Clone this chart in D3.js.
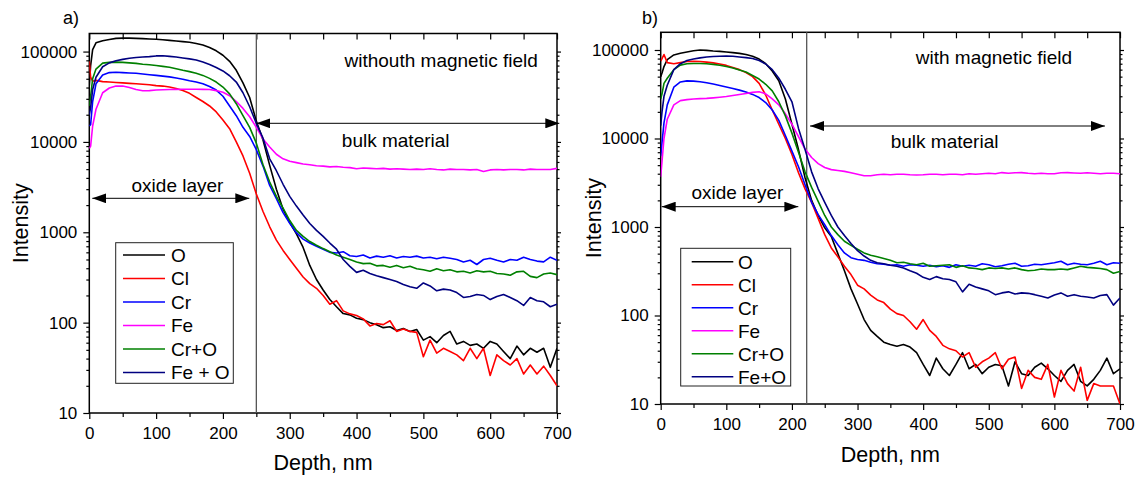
<!DOCTYPE html>
<html>
<head>
<meta charset="utf-8">
<script src="https://cdn.jsdelivr.net/npm/d3@7"></script>
<style>
  body { margin: 0; background: #fff; }
  svg text { font-family: "Liberation Sans", Arial, sans-serif; fill: #000; }
</style>
</head>
<body>
<svg id="chart" width="1138" height="480"></svg>
<script>
// depth grid shared by all profiles (nm)
const depth = [0, 2, 5, 10, 20, 30, 40, 50, 60, 70, 80, 90, 100, 110, 120, 130, 140, 150, 160, 170, 180, 190,
  200, 210, 220, 230, 240, 250, 260, 270, 280, 290, 300, 310, 320, 330, 340, 350, 360, 370, 380, 390,
  400, 410, 420, 430, 440, 450, 460, 470, 480, 490, 500, 510, 520, 530, 540, 550, 560, 570, 580, 590,
  600, 610, 620, 630, 640, 650, 660, 670, 680, 690, 700];

// ---- a) without magnetic field
const oA = [42000, 70000, 105000, 125000, 132000, 136000, 140000, 141000, 141000, 140000, 139000, 138000,
  137000, 135000, 133000, 131000, 129000, 127000, 123000, 118000, 111000, 102000,
  91000, 78000, 62000, 45000, 31000, 17000, 10500, 5500, 3000, 1800, 1280, 960, 680, 430, 300, 230, 180, 150, 126, 122,
  112, 108, 100, 95, 88, 90, 82, 86, 80, 84, 64, 70, 60, 72, 80, 58, 62, 56, 58, 52,
  62, 58, 48, 40, 55, 44, 52, 47, 52, 32, 52];
const clA = [78000, 52000, 47000, 48000, 46500, 46000, 45500, 45000, 44500, 44000, 43500, 43000,
  42000, 41500, 40500, 39000, 37000, 34500, 31000, 28000, 25000, 21500,
  17500, 14000, 10000, 7000, 4500, 2650, 1700, 1150, 820, 630, 500, 400, 320, 270, 240, 200, 160, 175, 135, 125,
  120, 110, 92, 98, 95, 105, 80, 85, 80, 78, 42, 64, 46, 52, 48, 44, 38, 52, 40, 52,
  26, 44, 38, 34, 40, 27, 34, 27, 33, 26, 20];
const crA = [15000, 15500, 28000, 44000, 55000, 58500, 59000, 58500, 58000, 57500, 56500, 55500,
  54500, 53500, 52500, 51000, 49500, 47500, 46000, 44000, 41000, 37500,
  32000, 25000, 19500, 14500, 11500, 8200, 5400, 3300, 2350, 1650, 1260, 990, 840, 760, 700, 650, 600, 590, 610, 550,
  540, 560, 520, 545, 530, 550, 520, 540, 530, 545, 520, 530, 510, 530, 515, 500, 470, 490, 440, 500,
  515, 490, 470, 500, 490, 530, 500, 480, 470, 530, 490];
const feA = [8500, 9000, 15000, 23000, 35000, 39500, 41500, 41500, 40000, 38000, 36800, 37000,
  37500, 37800, 38000, 38200, 38300, 38300, 38300, 38200, 38000, 37000,
  35500, 32500, 28000, 23500, 19000, 14500, 10800, 8800, 7300, 6500, 6100, 5900, 5700, 5600, 5450, 5400, 5300, 5350, 5250, 5200,
  5050, 5150, 5100, 5050, 5100, 5000, 5050, 5000, 4950, 5000, 4950, 5050, 4950, 4900, 5000, 4950, 4950, 4900, 4950, 4700,
  4900, 4950, 4900, 4950, 4950, 4900, 5000, 4950, 4950, 4950, 5100];
const crOA = [25000, 32000, 50000, 64000, 74500, 76000, 76500, 76000, 75000, 74000, 72500, 71500,
  70000, 68500, 67000, 64500, 62000, 60000, 57500, 54500, 50500, 46000,
  40500, 34000, 26500, 19500, 14500, 9700, 5600, 3600, 2500, 1850, 1350, 1050, 900, 790, 720, 660, 610, 560, 530, 500,
  470, 450, 455, 425, 430, 410, 430, 405, 420, 395, 385, 370, 395, 375, 385, 365, 370, 355, 375, 365,
  370, 350, 345, 335, 365, 370, 325, 315, 345, 355, 340];
const feOA = [20000, 24000, 38000, 52000, 68000, 75000, 79000, 82000, 84500, 86000, 87000, 88000,
  89500, 90000, 88500, 87000, 85000, 83000, 80500, 76500, 72000, 66500,
  61000, 54000, 46000, 35000, 24500, 16000, 11000, 6500, 4800, 3400, 2500, 1950, 1550, 1250, 1050, 900, 760, 650, 500, 420,
  360, 380, 350, 330, 315, 300, 285, 265, 250, 240, 275, 255, 225, 235, 230, 215, 190, 195, 205, 200,
  180, 195, 205, 190, 175, 155, 190, 175, 170, 150, 160];

// ---- b) with magnetic field
const oB = [50000, 55000, 65000, 78000, 88000, 92000, 95000, 98000, 100000, 99000, 97500, 96500,
  95000, 93500, 91500, 89000, 85000, 79000, 70000, 58000, 45000, 28000,
  14500, 7500, 3600, 2000, 1350, 980, 780, 500, 320, 200, 135, 90, 68, 58, 50, 47, 45, 47, 44, 38,
  28, 21, 33, 25, 21, 28, 38, 25, 28, 22, 26, 28, 27, 16, 30, 22, 21, 26, 29, 25,
  21, 18, 24, 28, 18, 16, 19, 24, 33, 22, 25];
const clB = [75000, 80000, 89000, 72000, 70000, 72000, 74000, 74500, 74000, 73000, 71500, 69500,
  67000, 63500, 60000, 55500, 50000, 42000, 31000, 21000, 14500, 10000,
  6600, 4100, 2700, 1900, 1250, 820, 580, 460, 360, 290, 220, 200, 170, 150, 140, 118, 105, 100, 85, 70,
  90, 68, 58, 46, 42, 40, 34, 38, 26, 30, 33, 38, 25, 32, 34, 15, 24, 20, 19, 28,
  12, 24, 17, 14, 26, 11, 17, 16, 16, 16, 10];
const crB = [6300, 9000, 15000, 24000, 38000, 43500, 44800, 44500, 43800, 42600, 41200, 39700,
  38200, 36700, 35200, 33500, 31500, 29000, 25500, 21000, 16000, 10800,
  7200, 4800, 3000, 1900, 1380, 1060, 800, 630, 510, 450, 430, 420, 400, 385, 380, 370, 375, 360, 375, 370,
  360, 370, 355, 365, 350, 375, 360, 370, 360, 385, 375, 355, 365, 380, 390, 360, 365, 380, 375, 385,
  395, 410, 375, 390, 380, 375, 390, 410, 375, 395, 390];
const feB = [3700, 5500, 10000, 16500, 24000, 26800, 27500, 27900, 28200, 28400, 28800, 29300,
  29800, 30600, 31400, 32200, 33200, 33800, 32000, 28000, 24000, 19000,
  14500, 10500, 7600, 6100, 5200, 4700, 4450, 4350, 4250, 4100, 3950, 3800, 3800, 3900, 3950, 3900, 3950, 3950, 3900, 3870,
  3900, 3950, 3950, 3900, 3950, 3950, 3900, 4000, 3950, 4000, 4050, 4000, 4120, 4050, 4100, 4120, 4050, 4000, 4050, 4000,
  4000, 4100, 4120, 4080, 4050, 4100, 4050, 4000, 4050, 4050, 4000];
const crOB = [28000, 32000, 42000, 48000, 60000, 67500, 70000, 70500, 70500, 69800, 68800, 67300,
  65000, 62500, 59500, 56300, 51500, 47000, 41000, 34500, 26000, 18000,
  11500, 7000, 4200, 2800, 1950, 1350, 1000, 820, 690, 620, 560, 510, 480, 460, 440, 420, 395, 400, 385, 375,
  390, 360, 365, 370, 375, 350, 365, 345, 340, 330, 345, 340, 345, 335, 345, 330, 320, 325, 335, 330,
  330, 335, 330, 345, 360, 350, 345, 340, 330, 300, 315];
const feOB = [14000, 20000, 30000, 40000, 60000, 70000, 76000, 79000, 81500, 83500, 84500, 85000,
  85500, 85000, 83500, 82000, 80000, 76000, 69500, 60000, 48000, 36000,
  26000, 13000, 7500, 4200, 2700, 1900, 1350, 1000, 800, 650, 540, 470, 420, 395, 385, 370, 360, 345, 320, 300,
  270, 255, 275, 260, 255, 240, 185, 225, 210, 200, 190, 172, 180, 185, 175, 180, 178, 172, 165, 158,
  170, 180, 165, 172, 165, 162, 158, 168, 172, 131, 158];

const seriesColors = ["#000000", "#ff0000", "#0000ff", "#ff00ff", "#008000", "#000080"];
const legendA = ["O", "Cl", "Cr", "Fe", "Cr+O", "Fe + O"];
const legendB = ["O", "Cl", "Cr", "Fe", "Cr+O", "Fe+O"];
const xTicks = [0, 100, 200, 300, 400, 500, 600, 700];
const xMinor = [50, 150, 250, 350, 450, 550, 650];
const yTicks = [10, 100, 1000, 10000, 100000];
const yMax = 158489;

const panels = [
  {
    name: "a", label: "a)", series: [oA, clA, crA, feA, crOA, feOA], legend: legendA,
    boundary: 250, field: "withouth magnetic field",
    left: 89.3, right: 557, top: 33.5, bottom: 413,
    labelX: 63, labelY: 24, yTitleX: 28, xTitleY: 470,
    bulkY: 123.3, bulkFrom: 250, bulkTo: 703.5, bulkTextX: 378, bulkTextY: 146.7,
    oxideY: 198.3, oxideFrom: 4.5, oxideTo: 239.5, oxideTextX: 132, oxideTextY: 191.7,
    fieldX: 382, fieldY: 66.7,
    legendBox: [115.7, 242.7, 117.6, 140.6], legendLine: [123, 165], legendText: 171, legendRow0: 255, legendStep: 23.5
  },
  {
    name: "b", label: "b)", series: [oB, clB, crB, feB, crOB, feOB], legend: legendB,
    boundary: 222.5, field: "with magnetic field",
    left: 660.7, right: 1120, top: 32.3, bottom: 404,
    labelX: 642, labelY: 24, yTitleX: 601, xTitleY: 462,
    bulkY: 126, bulkFrom: 227.6, bulkTo: 677, bulkTextX: 350.6, bulkTextY: 148.3,
    oxideY: 206.7, oxideFrom: 1.5, oxideTo: 209.8, oxideTextX: 116.8, oxideTextY: 199.3,
    fieldX: 388.7, fieldY: 64.3,
    legendBox: [680.7, 248.3, 110, 137.7], legendLine: [691.7, 733.3], legendText: 738, legendRow0: 261.7, legendStep: 23
  }
];

const svg = d3.select("#chart");

// arrowhead markers
const defs = svg.append("defs");
defs.append("marker")
    .attr("id", "head")
    .attr("viewBox", "0 0 14 10")
    .attr("refX", 14).attr("refY", 5)
    .attr("markerUnits", "userSpaceOnUse")
    .attr("markerWidth", 14).attr("markerHeight", 10)
    .attr("orient", "auto-start-reverse")
    .append("path")
    .attr("d", "M0,0L14,5L0,10Z")
    .attr("fill", "#000");

function drawPanel(p) {
  const g = svg.append("g").attr("class", "panel-" + p.name);

  const x = d3.scaleLinear().domain([0, 700]).range([p.left, p.right]);
  const y = d3.scaleLog().domain([10, yMax]).range([p.bottom, p.top]);

  // minor log values
  const yMinor = [];
  [10, 100, 1000, 10000, 100000].forEach(dec => {
    for (let k = 2; k <= 9; k++) if (dec * k <= yMax) yMinor.push(dec * k);
  });

  defs.append("clipPath").attr("id", "clip-" + p.name)
    .append("rect")
    .attr("x", p.left).attr("y", p.top)
    .attr("width", p.right - p.left).attr("height", p.bottom - p.top);

  // axes
  const fmt = d3.format("d");
  g.append("g").attr("transform", `translate(0,${p.bottom})`)
    .call(d3.axisBottom(x).tickValues(xTicks).tickFormat(fmt).tickSize(6).tickPadding(8).tickSizeOuter(0));
  g.append("g").attr("transform", `translate(0,${p.bottom})`)
    .call(d3.axisBottom(x).tickValues(xMinor).tickFormat("").tickSize(4).tickSizeOuter(0));
  g.append("g").attr("transform", `translate(0,${p.top})`)
    .call(d3.axisBottom(x).tickValues(xTicks.concat(xMinor)).tickFormat("").tickSize(6).tickSizeOuter(0));
  g.append("g").attr("transform", `translate(${p.left},0)`)
    .call(d3.axisLeft(y).tickValues(yTicks).tickFormat(fmt).tickSize(6).tickPadding(6).tickSizeOuter(0));
  g.append("g").attr("transform", `translate(${p.left},0)`)
    .call(d3.axisLeft(y).tickValues(yMinor).tickFormat("").tickSize(3).tickSizeOuter(0));
  g.append("g").attr("transform", `translate(${p.right},0)`)
    .call(d3.axisRight(y).tickValues(yTicks).tickFormat("").tickSize(4).tickSizeOuter(0));
  g.append("g").attr("transform", `translate(${p.right},0)`)
    .call(d3.axisRight(y).tickValues(yMinor).tickFormat("").tickSize(2.5).tickSizeOuter(0));

  g.selectAll(".domain").remove();
  g.selectAll(".tick line").attr("stroke", "#000").attr("stroke-width", 1.2);
  g.selectAll(".tick text").style("font-size", "17px").attr("fill", "#000");

  // frame
  g.append("rect")
    .attr("x", p.left).attr("y", p.top)
    .attr("width", p.right - p.left).attr("height", p.bottom - p.top)
    .attr("fill", "none").attr("stroke", "#000").attr("stroke-width", 1.5);

  // boundary between oxide layer and bulk
  g.append("line")
    .attr("x1", x(p.boundary)).attr("x2", x(p.boundary))
    .attr("y1", p.top).attr("y2", p.bottom)
    .attr("stroke", "#555").attr("stroke-width", 1.3);

  // profiles
  const line = d3.line()
    .x((d, i) => x(depth[i]))
    .y(d => y(d));
  const curves = g.append("g").attr("clip-path", `url(#clip-${p.name})`);
  p.series.forEach((s, i) => {
    curves.append("path")
      .datum(s)
      .attr("d", line)
      .attr("fill", "none")
      .attr("stroke", seriesColors[i])
      .attr("stroke-width", 1.6)
      .attr("stroke-linejoin", "round");
  });

  // arrows
  g.append("line")
    .attr("x1", x(p.bulkFrom)).attr("x2", x(p.bulkTo))
    .attr("y1", p.bulkY).attr("y2", p.bulkY)
    .attr("stroke", "#000").attr("stroke-width", 1)
    .attr("marker-start", "url(#head)").attr("marker-end", "url(#head)");
  g.append("line")
    .attr("x1", x(p.oxideFrom)).attr("x2", x(p.oxideTo))
    .attr("y1", p.oxideY).attr("y2", p.oxideY)
    .attr("stroke", "#000").attr("stroke-width", 1)
    .attr("marker-start", "url(#head)").attr("marker-end", "url(#head)");

  // annotation texts
  g.append("text").attr("x", x(p.bulkTextX)).attr("y", p.bulkTextY)
    .style("font-size", "19px").text("bulk material");
  g.append("text").attr("x", x(p.oxideTextX)).attr("y", p.oxideTextY)
    .attr("text-anchor", "middle").style("font-size", "19px").text("oxide layer");
  g.append("text").attr("x", x(p.fieldX)).attr("y", p.fieldY)
    .style("font-size", "19px").text(p.field);

  // panel label and axis titles
  g.append("text").attr("x", p.labelX).attr("y", p.labelY)
    .style("font-size", "18px").text(p.label);
  g.append("text")
    .attr("x", (p.left + p.right) / 2).attr("y", p.xTitleY)
    .attr("text-anchor", "middle").style("font-size", "21.5px").text("Depth, nm");
  g.append("text")
    .attr("transform", `translate(${p.yTitleX},${(p.top + p.bottom) / 2}) rotate(-90)`)
    .attr("text-anchor", "middle").style("font-size", "21.5px").text("Intensity");

  // legend
  const lb = p.legendBox;
  g.append("rect")
    .attr("x", lb[0]).attr("y", lb[1]).attr("width", lb[2]).attr("height", lb[3])
    .attr("fill", "#fff").attr("stroke", "#222").attr("stroke-width", 1);
  p.legend.forEach((name, i) => {
    const ry = p.legendRow0 + i * p.legendStep;
    g.append("line")
      .attr("x1", p.legendLine[0]).attr("x2", p.legendLine[1])
      .attr("y1", ry).attr("y2", ry)
      .attr("stroke", seriesColors[i]).attr("stroke-width", 1.6);
    g.append("text")
      .attr("x", p.legendText).attr("y", ry).attr("dy", "0.36em")
      .style("font-size", "19px").text(name);
  });
}

panels.forEach(drawPanel);
</script>
</body>
</html>
